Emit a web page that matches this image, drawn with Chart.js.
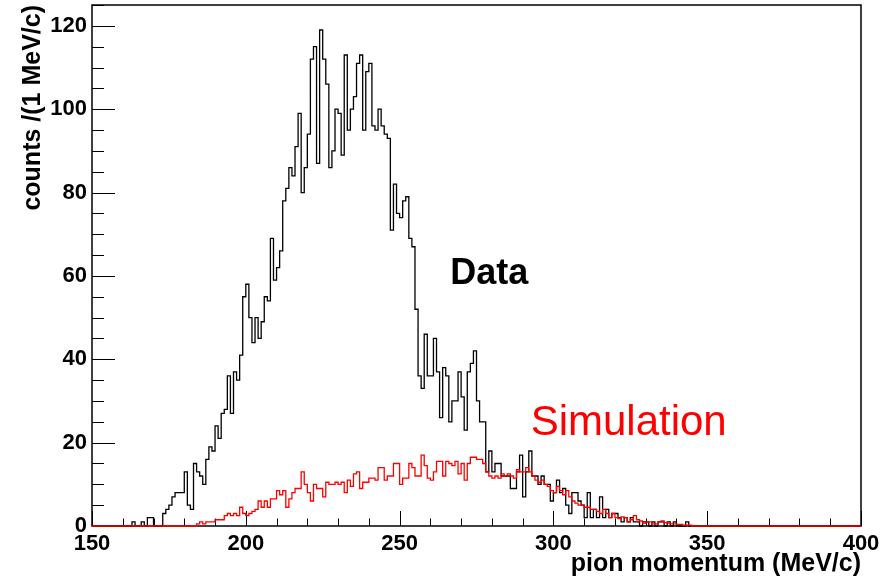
<!DOCTYPE html>
<html>
<head>
<meta charset="utf-8">
<title>pion momentum</title>
<script src="https://cdn.jsdelivr.net/npm/chart.js@4.4.1/dist/chart.umd.min.js"></script>
<style>
  html, body { margin: 0; padding: 0; background: #fff; }
  #wrap { width: 883px; height: 583px; position: relative; }
</style>
</head>
<body>
<div id="wrap"><canvas id="chart"></canvas></div>
<script>
// histogram binning: 1 MeV/c bins from 150 to 400
const FIRST_BIN = 150;
const BIN_WIDTH = 1;

const X_TICKS = [150, 200, 250, 300, 350, 400];
const Y_TICKS = [0, 20, 40, 60, 80, 100, 120];

// measured counts, one value per bin (row = 10 bins)
const dataCounts = [
  0, 0, 0, 0, 0, 0, 0, 0, 0, 0,            // 150
  0, 0, 0, 1, 0, 0, 1, 0, 2, 2,            // 160
  0, 0, 0, 3, 4, 5, 7, 8, 8, 8,            // 170
  13, 5, 4, 15, 13, 12, 10, 16, 19, 18,    // 180
  24, 21, 27, 28, 36, 27, 37, 35, 41, 55,  // 190
  58, 50, 44, 50, 45, 49, 55, 54, 69, 59,  // 200
  62, 66, 78, 81, 86, 84, 91, 99, 80, 86,  // 210
  94, 112, 115, 87, 119, 112, 106, 86, 90, 100,   // 220
  99, 89, 113, 95, 100, 103, 111, 113, 95, 109,   // 230
  111, 96, 95, 100, 96, 94, 93, 71, 82, 75,       // 240
  74, 78, 79, 69, 67, 52, 36, 33, 46, 36,  // 250
  36, 45, 37, 26, 38, 36, 25, 30, 30, 37,  // 260
  31, 23, 37, 39, 42, 30, 25, 25, 13, 18,  // 270
  13, 15, 15, 12, 12, 12, 9, 9, 13, 17,    // 280
  7, 13, 18, 12, 12, 10, 12, 10, 10, 6,    // 290
  8, 11, 8, 9, 5, 3, 8, 8, 6, 5,           // 300
  2, 8, 2, 4, 2, 7, 2, 4, 2, 3,            // 310
  3, 2, 1, 2, 1, 2, 1, 1, 0, 1,            // 320
  1, 0, 1, 0, 1, 1, 0, 1, 0, 1,            // 330
  0, 0, 0, 1, 0, 0, 0, 0, 0, 0,            // 340
  0, 0, 0, 0, 0, 0, 0, 0, 0, 0,            // 350
  0, 0, 0, 0, 0, 0, 0, 0, 0, 0,            // 360
  0, 0, 0, 0, 0, 0, 0, 0, 0, 0,            // 370
  0, 0, 0, 0, 0, 0, 0, 0, 0, 0,            // 380
  0, 0, 0, 0, 0, 0, 0, 0, 0, 0             // 390
];

// simulation, scaled
const simCounts = [
  0, 0, 0, 0, 0, 0, 0, 0, 0, 0,            // 150
  0, 0, 0, 0, 0, 0, 0, 0, 0, 0,            // 160
  0, 0, 0, 0, 0, 0, 0, 0, 0, 0,            // 170
  0, 0, 0, 0, 0.5, 1, 0.5, 1, 1, 1,        // 180
  1.5, 1.5, 1.5, 2.5, 3, 2.5, 3, 2.5, 4.5, 3,     // 190
  2.5, 3, 3.5, 4, 6, 4.5, 6, 4.5, 6.5, 6.5,       // 200
  8.5, 7.5, 8.5, 4.5, 6.5, 8, 9, 9, 13, 10,       // 210
  8, 6, 10, 9, 9, 7, 10.5, 10, 10, 10.5,          // 220
  10, 10.5, 8, 11, 9.5, 12.5, 13, 9, 10.5, 10.5,  // 230
  11.5, 11.5, 11, 14, 14, 11, 12, 12, 15, 15,     // 240
  10, 11.5, 11.5, 15, 14, 12, 12, 17, 14.5, 11.5, // 250
  11, 13, 15.5, 15.5, 12, 15.5, 15, 14.5, 15.5, 12.5, // 260
  15, 11, 15, 16.5, 16.5, 16, 16, 15, 13, 12,     // 270
  11.5, 12, 11.5, 12.5, 12, 12.5, 12, 11.5, 13.5, 13, // 280
  13, 14, 13, 12, 11, 10.5, 11, 10, 9.5, 8.5,     // 290
  8, 9.5, 8.5, 7.5, 8.5, 7, 6, 5.5, 5, 5,         // 300
  4.5, 4.5, 4, 4, 3.5, 3, 4, 3, 2, 3,             // 310
  2, 1.8, 2.2, 2, 1, 1.5, 2.5, 1.5, 1.2, 0.7,     // 320
  1, 1, 0.5, 0.5, 1, 1.2, 0.8, 0.7, 0.5, 0.5,     // 330
  0.4, 0.4, 0.2, 0.2, 0.2, 0, 0, 0, 0, 0,         // 340
  0, 0, 0, 0, 0, 0, 0, 0, 0, 0,            // 350
  0, 0, 0, 0, 0, 0, 0, 0, 0, 0,            // 360
  0, 0, 0, 0, 0, 0, 0, 0, 0, 0,            // 370
  0, 0, 0, 0, 0, 0, 0, 0, 0, 0,            // 380
  0, 0, 0, 0, 0, 0, 0, 0, 0, 0             // 390
];

const FONT = '"Liberation Sans", Arial, Helvetica, sans-serif';

// bin edges -> points for a stepped line (value held until next edge)
function toSteps(counts) {
    const pts = counts.map((c, i) => ({ x: FIRST_BIN + i * BIN_WIDTH, y: c }));
    pts.push({ x: FIRST_BIN + counts.length * BIN_WIDTH, y: 0 });
    return pts;
}

// ROOT-like frame with inward ticks
const frameTicks = {
    id: 'frameTicks',
    beforeDatasetsDraw(chart) {
        const { ctx, chartArea: a, scales: { x, y } } = chart;
        ctx.save();
        ctx.strokeStyle = '#000';
        ctx.lineWidth = 1;
        ctx.beginPath();
        for (let v = x.min; v <= x.max; v += 10) {
            const px = Math.round(x.getPixelForValue(v)) + 0.5;
            const len = v % 50 === 0 ? 15 : 7.5;
            ctx.moveTo(px, a.bottom);
            ctx.lineTo(px, a.bottom - len);
        }
        for (let v = y.min; v <= y.max; v += 5) {
            const py = Math.round(y.getPixelForValue(v)) + 0.5;
            const len = v % 20 === 0 ? 23 : 12;
            ctx.moveTo(a.left, py);
            ctx.lineTo(a.left + len, py);
        }
        ctx.stroke();
        ctx.lineWidth = 1.5;
        ctx.strokeRect(a.left, a.top, a.right - a.left, a.bottom - a.top);
        ctx.restore();
    }
};

// in-plot labels
const seriesLabels = {
    id: 'seriesLabels',
    afterDatasetsDraw(chart) {
        const { ctx, scales: { x, y } } = chart;
        ctx.save();
        ctx.textBaseline = 'alphabetic';
        ctx.textAlign = 'left';
        ctx.fillStyle = '#000';
        ctx.font = 'bold 36px ' + FONT;
        ctx.fillText('Data', x.getPixelForValue(266.5), y.getPixelForValue(58));
        ctx.fillStyle = '#ff0000';
        ctx.font = '42px ' + FONT;
        ctx.fillText('Simulation', x.getPixelForValue(292.6), y.getPixelForValue(21.9));
        ctx.restore();
    }
};

new Chart(document.getElementById('chart'), {
    type: 'line',
    data: {
        datasets: [
            {
                label: 'Data',
                data: toSteps(dataCounts),
                borderColor: '#000',
                borderWidth: 1.3,
                stepped: 'before',
                pointRadius: 0,
                fill: false,
                clip: 3,
                order: 2
            },
            {
                label: 'Simulation',
                data: toSteps(simCounts),
                borderColor: '#ff0000',
                borderWidth: 1.3,
                stepped: 'before',
                pointRadius: 0,
                fill: false,
                clip: 3,
                order: 1
            }
        ]
    },
    options: {
        responsive: true,
        maintainAspectRatio: false,
        animation: false,
        events: [],
        layout: { padding: { top: 5, right: 22, left: 0, bottom: 0 } },
        plugins: { legend: { display: false }, tooltip: { enabled: false } },
        scales: {
            x: {
                type: 'linear',
                min: 150,
                max: 400,
                grid: { display: false, drawTicks: false },
                border: { display: false },
                afterFit: s => { s.height = 57; s.paddingLeft = 0; s.paddingRight = 0; },
                afterBuildTicks: s => { s.ticks = X_TICKS.map(v => ({ value: v })); },
                ticks: {
                    color: '#000',
                    padding: 5,
                    maxRotation: 0,
                    autoSkip: false,
                    font: { family: FONT, size: 22, weight: 'bold' }
                },
                title: {
                    display: true,
                    text: 'pion momentum (MeV/c)',
                    align: 'end',
                    color: '#000',
                    padding: { top: 0, bottom: 4 },
                    font: { family: FONT, size: 25, weight: 'bold' }
                }
            },
            y: {
                min: 0,
                max: 125,
                grid: { display: false, drawTicks: false },
                border: { display: false },
                afterFit: s => { s.width = 92; s.paddingTop = 0; s.paddingBottom = 0; },
                afterBuildTicks: s => { s.ticks = Y_TICKS.map(v => ({ value: v })); },
                ticks: {
                    color: '#000',
                    padding: 5,
                    font: { family: FONT, size: 22, weight: 'bold' }
                },
                title: {
                    display: true,
                    text: 'counts /(1 MeV/c)',
                    align: 'end',
                    color: '#000',
                    padding: { top: 18, bottom: 0 },
                    font: { family: FONT, size: 25, weight: 'bold' }
                }
            }
        }
    },
    plugins: [frameTicks, seriesLabels]
});
</script>
</body>
</html>
